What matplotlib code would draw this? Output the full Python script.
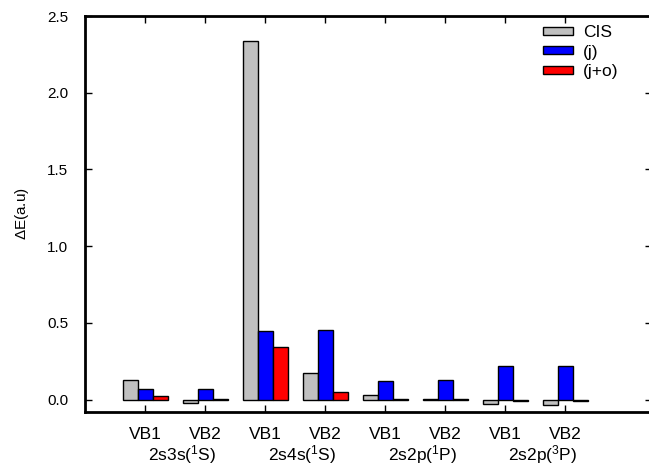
import numpy as np
import matplotlib
matplotlib.use("Agg")
import matplotlib.pyplot as plt

plt.rcParams["font.family"] = ["Liberation Sans", "DejaVu Sans"]
plt.rcParams["mathtext.fontset"] = "custom"
plt.rcParams["mathtext.rm"] = "Liberation Sans"
plt.rcParams["mathtext.it"] = "Liberation Sans"
plt.rcParams["savefig.bbox"] = "standard"

## data
tick_labels = ["VB1", "VB2", "VB1", "VB2", "VB1", "VB2", "VB1", "VB2"]
groups = [r"2s3s($\mathregular{^1}$S)", r"2s4s($\mathregular{^1}$S)",
          r"2s2p($\mathregular{^1}$P)", r"2s2p($\mathregular{^3}$P)"]
cis = [0.13, -0.02, 2.334, 0.174, 0.03, 0.002, -0.03, -0.037]
j = [0.07, 0.07, 0.445, 0.454, 0.122, 0.128, 0.217, 0.221]
jo = [0.024, 0.002, 0.343, 0.052, 0.003, 0.002, -0.01, -0.01]

W, H = 649, 466
right_px = 652  # right spine sits just past the figure edge
fig = plt.figure(figsize=(W / 100, H / 100), dpi=100)
ax = fig.add_axes([85 / W, 1 - 412 / H, (right_px - 85) / W, (412 - 16) / H])

x = np.arange(1, len(tick_labels) + 1)
w = 0.25
ax.bar(x - w, cis, w, color="#c0c0c0", edgecolor="black", linewidth=1, label="CIS")
ax.bar(x, j, w, color="#0000ff", edgecolor="black", linewidth=1, label="(j)")
ax.bar(x + w, jo, w, color="#ff0000", edgecolor="black", linewidth=1, label="(j+o)")

ax.set_xlim(0, (right_px - 85) / 60)
ax.set_ylim(-0.08, 2.5)
ax.set_xticks(x)
ax.set_xticklabels(tick_labels, fontsize=12.5)
ax.set_yticks([0.0, 0.5, 1.0, 1.5, 2.0, 2.5])
ax.set_yticklabels(["0.0", "0.5", "1.0", "1.5", "2.0", "2.5"], fontsize=11)
ax.tick_params(direction="in", top=True, right=True, length=5, width=1)
ax.tick_params(axis="x", pad=11)
ax.tick_params(axis="y", pad=12)
for s in ax.spines.values():
    s.set_linewidth(2)

for i, g in enumerate(groups):
    ax.text(2 * i + 1.62, -0.397, g, transform=ax.transData, ha="center",
            va="baseline", fontsize=12.5, clip_on=False)

ax.set_ylabel(r"$\Delta$E(a.u)", fontsize=11, labelpad=12)

leg = ax.legend(loc="upper left", bbox_to_anchor=((543 - 85) / (right_px - 85), 0.977),
                frameon=False, fontsize=12.5, handlelength=1.72, handleheight=0.34,
                labelspacing=0.26, handletextpad=0.57, borderaxespad=0, borderpad=0)

fig.savefig("out.png", dpi=100)
